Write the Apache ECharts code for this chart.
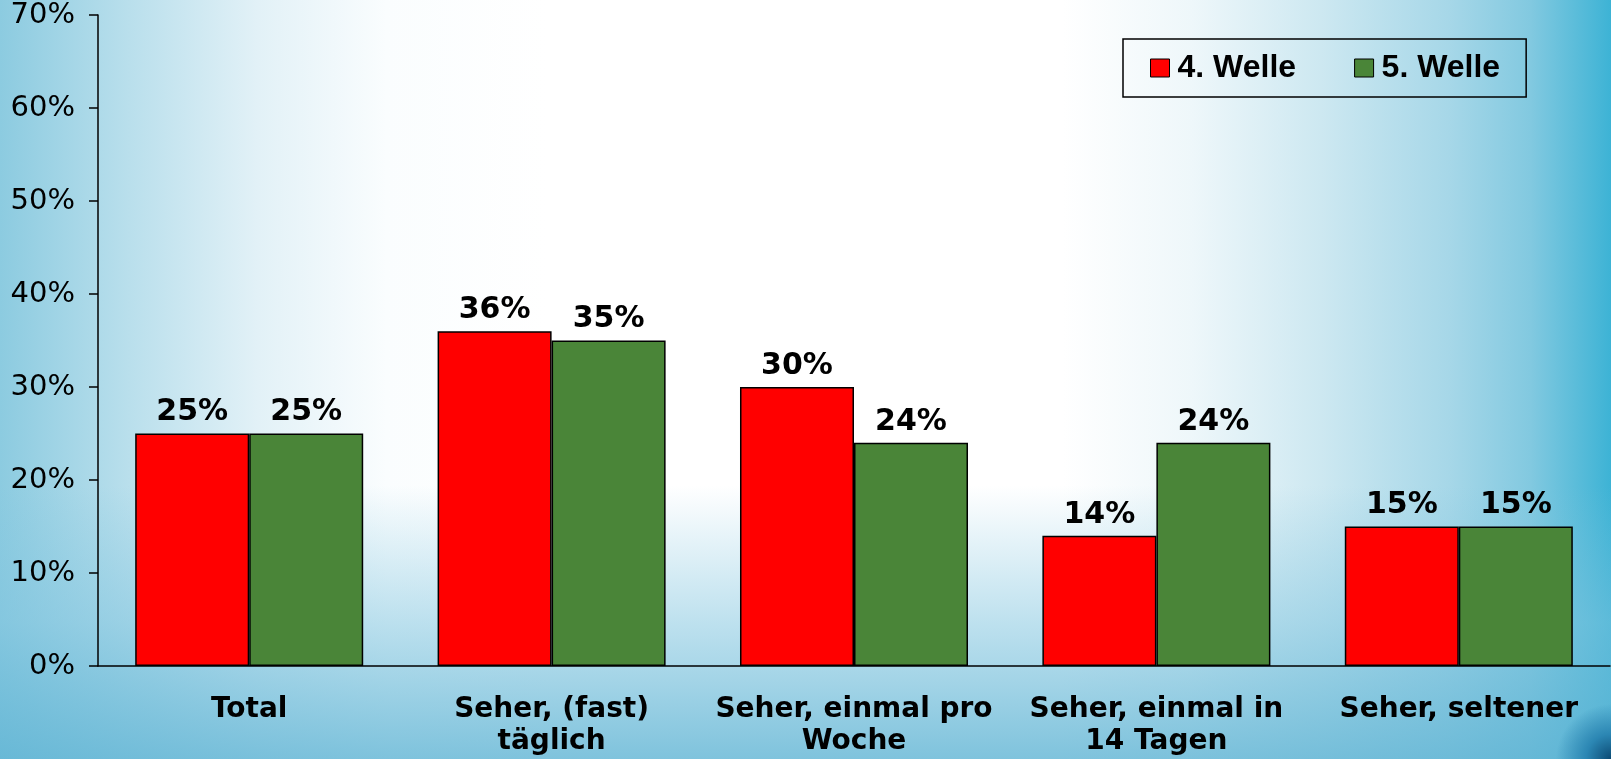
<!DOCTYPE html>
<html>
<head>
<meta charset="utf-8">
<script src="https://cdn.jsdelivr.net/npm/echarts@6/dist/echarts.min.js"></script>
<style>
html, body { margin: 0; padding: 0; width: 100%; height: 100%; overflow: hidden; }
body {
    background:
        linear-gradient(to bottom, rgba(105,185,215,0) 0%, rgba(105,185,215,0) 64%, rgba(125,195,222,0.5) 82%, rgba(95,180,212,0.8) 100%),
        linear-gradient(to right, #8ccbe0 0%, #b9dfec 8%, #e2f1f7 16%, #fafdfe 24%, #ffffff 34%, #ffffff 66%, #eef7fa 74%, #cde8f1 82%, #a6d7e8 90%, #82c9e0 95%, #3db3d5 100%);
}
#corner { position: absolute; right: 0; bottom: 0; width: 70px; height: 60px;
    background: radial-gradient(circle 55px at 100% 100%, #0b4a74 0%, #2b86b3 45%, rgba(90,180,215,0) 100%); }
#pageOne { position: absolute; left: 0; top: 0; width: 1611px; height: 759px; }
</style>
</head>
<body>
<div id="corner"></div>
<div id="pageOne"></div>
<script>
var categories = ['Total', 'Seher, (fast)\ntäglich', 'Seher, einmal pro\nWoche', 'Seher, einmal in\n14 Tagen', 'Seher, seltener'];
var welle4 = [25, 36, 30, 14, 15];
var welle5 = [25, 35, 24, 24, 15];
var seriesNames = ['4. Welle', '5. Welle'];

var echartsWarpcharts1 = document.getElementById('pageOne');
var myChartcharts1 = echarts.init(echartsWarpcharts1);

var labelStyle = {
    show: true,
    position: 'top',
    distance: 6,
    formatter: '{c}%',
    color: '#000',
    fontFamily: 'DejaVu Sans',
    fontWeight: 'bold',
    fontSize: 30
};

myChartcharts1.setOption({
    backgroundColor: 'transparent',
    animation: false,
    grid: { left: 98, right: 1, top: 15, bottom: 93, containLabel: false },
    legend: {
        left: 1123,
        top: 39,
        padding: [13, 26, 13, 27],
        borderColor: '#000',
        borderWidth: 1.5,
        itemGap: 58,
        itemWidth: 19,
        itemHeight: 18,
        icon: 'rect',
        itemStyle: { borderColor: '#000', borderWidth: 1 },
        textStyle: { fontFamily: 'Liberation Sans', fontWeight: 'bold', fontSize: 32, color: '#000', lineHeight: 26, padding: [0, 0, 0, 3] },
        data: seriesNames
    },
    xAxis: {
        type: 'category',
        data: categories,
        axisLine: { lineStyle: { color: '#000', width: 1.5 } },
        axisTick: { show: false },
        axisLabel: {
            color: '#000', fontFamily: 'DejaVu Sans', fontWeight: 'bold', fontSize: 28,
            lineHeight: 32, margin: 28, interval: 0
        }
    },
    yAxis: {
        type: 'value',
        min: 0,
        max: 70,
        interval: 10,
        axisLine: { show: true, lineStyle: { color: '#000', width: 1.5 } },
        axisTick: { show: true, inside: false, length: 9, lineStyle: { color: '#000', width: 1.5 } },
        splitLine: { show: false },
        axisLabel: {
            formatter: '{value}%', color: '#000', fontFamily: 'DejaVu Sans', fontSize: 29, margin: 23
        }
    },
    series: [
        {
            name: seriesNames[0], type: 'bar', data: welle4,
            barGap: '0%', barCategoryGap: '24.6%',
            itemStyle: { color: '#ff0000', borderColor: '#000', borderWidth: 1.5 },
            label: labelStyle
        },
        {
            name: seriesNames[1], type: 'bar', data: welle5,
            barGap: '0%', barCategoryGap: '24.6%',
            itemStyle: { color: '#4a8538', borderColor: '#000', borderWidth: 1.5 },
            label: labelStyle
        }
    ]
});

window.onresize = function () {
    myChartcharts1.resize();
};
</script>
</body>
</html>
